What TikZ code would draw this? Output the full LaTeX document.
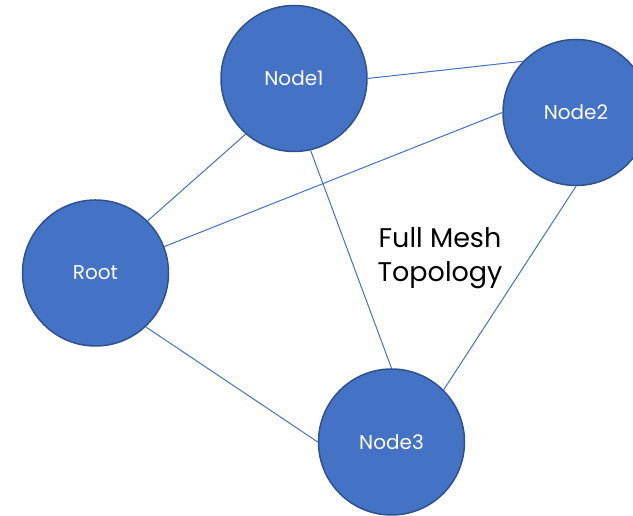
\documentclass[tikz,border=0pt]{standalone}
\usepackage{fontspec}
\setmainfont{Poppins}
\definecolor{meshfill}{HTML}{4472C4}
\definecolor{meshedge}{HTML}{2F528F}
\begin{document}
\begin{tikzpicture}[x=1pt,y=1pt,
  meshnode/.style={circle, fill=meshfill, draw=meshedge, line width=1.5pt,
    minimum size=146pt, inner sep=0pt, text=white,
    font=\fontsize{20}{24}\selectfont},
  link/.style={draw=meshfill, line width=1pt}]
\useasboundingbox (0,0) rectangle (633,516);
\clip (0,0) rectangle (633,516);

% nodes of the mesh
\node[meshnode] (n1)   at (294,437.5) {Node1};
\node[meshnode] (n2)   at (576,403.5) {Node2};
\node[meshnode] (root) at (95.5,243)  {Root};
\node[meshnode] (n3)   at (391.5,74)  {Node3};

% every pair connected
\draw[link] (n1.0)    -- (n2.136);
\draw[link] (n1.229)  -- (root.45);
\draw[link] (n1.283)  -- (n3.90);
\draw[link] (n2.180)  -- (root.21);
\draw[link] (n2.270)  -- (n3.45);
\draw[link] (root.313)-- (n3.180);

% caption
\node[align=center, font=\fontsize{27}{34}\selectfont, inner sep=0pt]
  (cap) at (440,258) {Full Mesh\\Topology};
\end{tikzpicture}
\end{document}
